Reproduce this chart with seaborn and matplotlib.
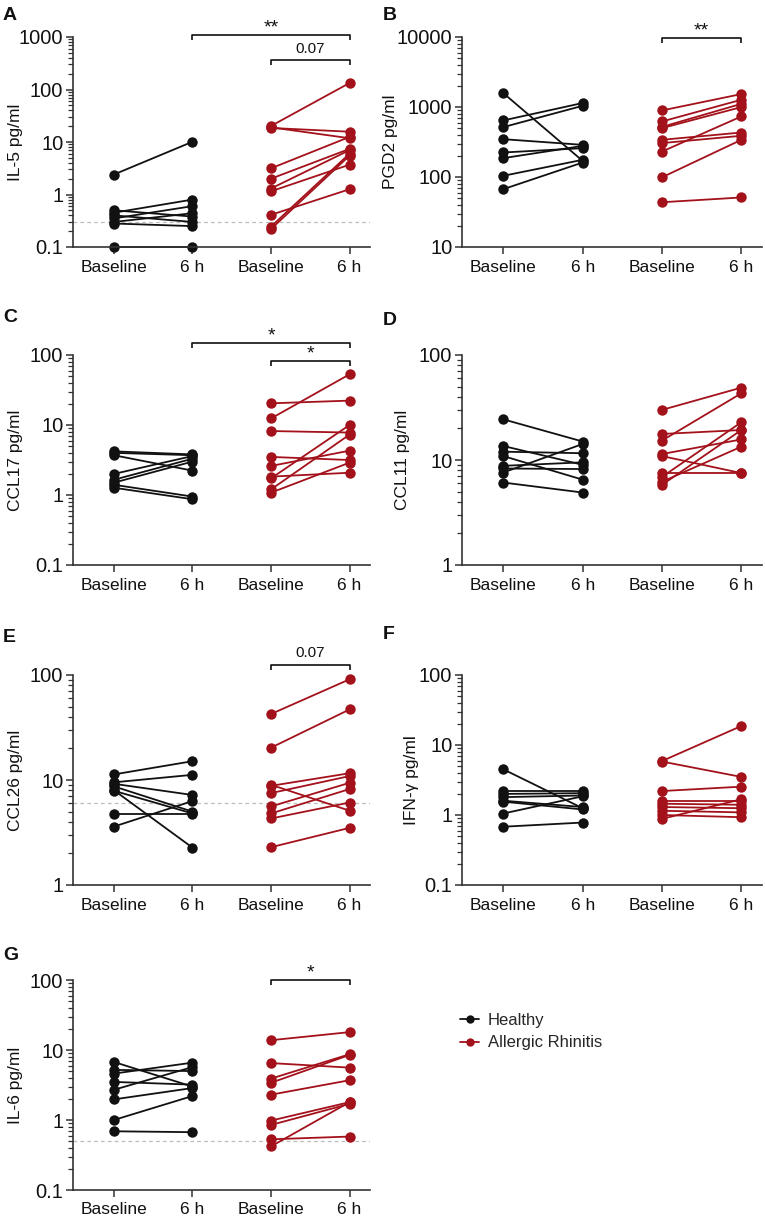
import numpy as np
import pandas as pd
import matplotlib
matplotlib.use("Agg")
import matplotlib.pyplot as plt
import seaborn as sns
from matplotlib.ticker import LogLocator, FuncFormatter, NullFormatter
from matplotlib.lines import Line2D

sns.set_theme(style="ticks")
plt.rcParams["font.family"] = ["Liberation Sans", "DejaVu Sans"]

# ---------------- data ----------------
TIMEPOINTS = ["Baseline", "6 h", "Baseline", "6 h"]
GROUPS = ["Healthy", "Allergic Rhinitis"]
COLORS = {"Healthy": "#111111", "Allergic Rhinitis": "#A3111B"}

# A  IL-5
IL5_H_BASE = [2.4, 0.5, 0.45, 0.4, 0.35, 0.3, 0.28, 0.1]
IL5_H_6H = [10.1, 0.38, 0.8, 0.3, 0.6, 0.44, 0.25, 0.1]
IL5_AR_BASE = [20.2, 19.0, 18.5, 3.15, 2.0, 1.3, 1.15, 0.41, 0.245, 0.22]
IL5_AR_6H = [133, 11.8, 15.7, 12.5, 7.4, 7.0, 3.7, 1.26, 6.0, 5.5]

# B  PGD2
PGD2_H_BASE = [1580, 643, 516, 347, 224, 186, 104, 67]
PGD2_H_6H = [170, 1140, 1040, 288, 258, 278, 176, 161]
PGD2_AR_BASE = [893, 621, 520, 499, 340, 305, 231, 99, 43.6]
PGD2_AR_6H = [1530, 1270, 1110, 997, 432, 388, 733, 340, 51]

# C  CCL17
CCL17_H_BASE = [4.2, 4.0, 3.7, 2.0, 1.65, 1.5, 1.4, 1.27]
CCL17_H_6H = [3.8, 3.7, 2.23, 3.6, 3.3, 3.0, 0.95, 0.87]
CCL17_AR_BASE = [20.4, 12.4, 8.2, 3.5, 2.6, 1.83, 1.73, 1.2, 1.08]
CCL17_AR_6H = [22.3, 53, 7.8, 3.16, 4.3, 2.08, 10, 7.3, 2.9]

# D  CCL11
CCL11_H_BASE = [24.4, 13.6, 12.0, 10.9, 8.8, 8.3, 7.6, 6.1]
CCL11_H_6H = [15.0, 9.0, 11.6, 6.5, 9.5, 8.2, 14.2, 4.9]
CCL11_AR_BASE = [30, 17.7, 15.3, 11.4, 10.9, 7.5, 6.9, 6.2, 5.8]
CCL11_AR_6H = [48.9, 19.3, 43.2, 15.7, 7.5, 7.5, 22.9, 13.4, 19.3]

# E  CCL26
CCL26_H_BASE = [11.3, 9.5, 9.2, 8.7, 8.0, 7.9, 4.7, 3.6]
CCL26_H_6H = [15.1, 11.2, 7.2, 5.0, 2.27, 4.8, 4.7, 6.3]
CCL26_AR_BASE = [42.5, 20.3, 9.0, 8.8, 7.5, 5.6, 4.8, 4.3, 2.29]
CCL26_AR_6H = [91, 47, 5.1, 11.6, 10.9, 9.4, 8.2, 6.1, 3.5]

# F  IFN-gamma
IFNG_H_BASE = [4.5, 2.2, 2.0, 1.8, 1.6, 1.55, 1.05, 0.68]
IFNG_H_6H = [1.25, 2.2, 2.05, 1.9, 1.3, 1.2, 1.85, 0.78]
IFNG_AR_BASE = [5.9, 5.8, 2.2, 1.6, 1.45, 1.3, 1.15, 1.0, 0.88]
IFNG_AR_6H = [18.7, 3.5, 2.54, 1.6, 1.4, 1.25, 1.09, 0.93, 1.68]

# G  IL-6
IL6_H_BASE = [6.75, 5.2, 4.6, 3.5, 2.7, 1.97, 1.0, 0.69]
IL6_H_6H = [3.0, 5.0, 6.6, 3.2, 5.7, 2.86, 2.2, 0.67]
IL6_AR_BASE = [13.8, 6.5, 3.9, 3.4, 2.3, 0.98, 0.85, 0.53, 0.42]
IL6_AR_6H = [18, 5.6, 8.7, 8.5, 3.7, 1.8, 1.7, 0.58, 1.8]

# detection limits (dashed lines)
IL5_LOD = 0.3
CCL26_LOD = 6.1
IL6_LOD = 0.5

W, H = 765, 1220
fig = plt.figure(figsize=(W / 100, H / 100), dpi=100)


def make_df(hb, h6, ab, a6):
    rows = []
    for i, (b, s) in enumerate(zip(hb, h6)):
        rows.append(dict(x=0, value=b, subject=f"H{i}", group=GROUPS[0]))
        rows.append(dict(x=1, value=s, subject=f"H{i}", group=GROUPS[0]))
    for i, (b, s) in enumerate(zip(ab, a6)):
        rows.append(dict(x=2, value=b, subject=f"A{i}", group=GROUPS[1]))
        rows.append(dict(x=3, value=s, subject=f"A{i}", group=GROUPS[1]))
    return pd.DataFrame(rows)


def bracket(ax, x1, x2, yf, text, tyf):
    tr = ax.get_xaxis_transform()
    ax.plot([x1, x1, x2, x2], [yf - 0.022, yf, yf, yf - 0.022], transform=tr,
            color="#111111", lw=1.2, clip_on=False, solid_capstyle="butt")
    star = set(text) == {"*"}
    ax.text((x1 + x2) / 2, tyf, text, transform=tr, ha="center", va="center",
            fontsize=14 if star else 11, color="#111111", clip_on=False)


panels = [
    dict(letter="A", ylabel="IL-5 pg/ml", data=(IL5_H_BASE, IL5_H_6H, IL5_AR_BASE, IL5_AR_6H),
         ylim=(0.1, 1000), col=0, top=37, lod=IL5_LOD, lab=-0.17, lpos=(3, 7),
         brackets=[(1, 3, 1.01, "**", 1.045), (2, 3, 0.89, "0.07", 0.945)]),
    dict(letter="B", ylabel="PGD2 pg/ml", data=(PGD2_H_BASE, PGD2_H_6H, PGD2_AR_BASE, PGD2_AR_6H),
         ylim=(10, 10000), col=1, top=37, lod=None, lab=-0.215, lpos=(383, 7),
         brackets=[(2, 3, 0.995, "**", 1.03)]),
    dict(letter="C", ylabel="CCL17 pg/ml", data=(CCL17_H_BASE, CCL17_H_6H, CCL17_AR_BASE, CCL17_AR_6H),
         ylim=(0.1, 100), col=0, top=355, lod=None, lab=-0.17, lpos=(3, 309),
         brackets=[(1, 3, 1.057, "*", 1.09), (2, 3, 0.971, "*", 1.005)]),
    dict(letter="D", ylabel="CCL11 pg/ml", data=(CCL11_H_BASE, CCL11_H_6H, CCL11_AR_BASE, CCL11_AR_6H),
         ylim=(1, 100), col=1, top=355, lod=None, lab=-0.175, lpos=(383, 312),
         brackets=[]),
    dict(letter="E", ylabel="CCL26 pg/ml", data=(CCL26_H_BASE, CCL26_H_6H, CCL26_AR_BASE, CCL26_AR_6H),
         ylim=(1, 100), col=0, top=675, lod=CCL26_LOD, lab=-0.17, lpos=(3, 629),
         brackets=[(2, 3, 1.048, "0.07", 1.105)]),
    dict(letter="F", ylabel="IFN-γ pg/ml", data=(IFNG_H_BASE, IFNG_H_6H, IFNG_AR_BASE, IFNG_AR_6H),
         ylim=(0.1, 100), col=1, top=675, lod=None, lab=-0.142, lpos=(383, 626),
         brackets=[]),
    dict(letter="G", ylabel="IL-6 pg/ml", data=(IL6_H_BASE, IL6_H_6H, IL6_AR_BASE, IL6_AR_6H),
         ylim=(0.1, 100), col=0, top=980, lod=IL6_LOD, lab=-0.17, lpos=(3, 947),
         brackets=[(2, 3, 1.0, "*", 1.035)]),
]

COL_X = [(73, 297), (462, 300)]
AX_H = 210
SPINE = "#333333"

for p in panels:
    x0, w = COL_X[p["col"]]
    ax = fig.add_axes([x0 / W, 1 - (p["top"] + AX_H) / H, w / W, AX_H / H])
    df = make_df(*p["data"])
    sns.lineplot(data=df, x="x", y="value", hue="group", units="subject",
                 estimator=None, sort=False, palette=COLORS, marker="o",
                 markersize=7.5, markeredgewidth=0, linewidth=1.3,
                 legend=False, ax=ax)
    ax.set_yscale("log")
    ax.set_ylim(*p["ylim"])
    ax.set_xlim(-0.52, 3.26)
    for ln in ax.lines:
        ln.set_clip_on(False)
    if p["lod"] is not None:
        ax.axhline(p["lod"], color="#bdbdbd", lw=0.9, ls=(0, (3, 2.5)), zorder=0)
    ax.set_xticks([0, 1, 2, 3])
    ax.set_xticklabels(TIMEPOINTS)
    ax.set_xlabel("")
    ax.set_ylabel(p["ylabel"], fontsize=12.5, color="#111111")
    ax.yaxis.set_label_coords(p["lab"], 0.5)
    ax.yaxis.set_major_locator(LogLocator(base=10, numticks=10))
    ax.yaxis.set_minor_locator(LogLocator(base=10, subs=np.arange(2, 10), numticks=10))
    ax.yaxis.set_major_formatter(FuncFormatter(lambda v, pos: f"{v:g}"))
    ax.yaxis.set_minor_formatter(NullFormatter())
    ax.tick_params(axis="y", which="major", labelsize=14.5, length=5, width=1.1,
                   color=SPINE, pad=2, labelcolor="#111111")
    ax.tick_params(axis="y", which="minor", left=True, length=3.5, width=0.9, color=SPINE)
    ax.tick_params(axis="x", labelsize=12.5, length=5, width=1.1, color=SPINE,
                   pad=4, labelcolor="#111111")
    sns.despine(ax=ax)
    for s in ("left", "bottom"):
        ax.spines[s].set_linewidth(1.2)
        ax.spines[s].set_color(SPINE)
    ax.set_facecolor("none")
    for b in p["brackets"]:
        bracket(ax, *b)
    fig.text(p["lpos"][0] / W, 1 - p["lpos"][1] / H, p["letter"], fontsize=14,
             fontweight="bold", ha="left", va="top", color="#111111")

handles = [Line2D([0], [0], color=COLORS[g], marker="o", markersize=6,
                  markeredgewidth=0, lw=1.3) for g in GROUPS]
fig.legend(handles, GROUPS, loc="upper left", bbox_to_anchor=(460 / W, 1 - 1013 / H),
           frameon=False, fontsize=12, handlelength=1.15, handletextpad=0.5,
           labelspacing=0.45, borderpad=0, borderaxespad=0)

fig.savefig("out.png", dpi=100, facecolor="white")
